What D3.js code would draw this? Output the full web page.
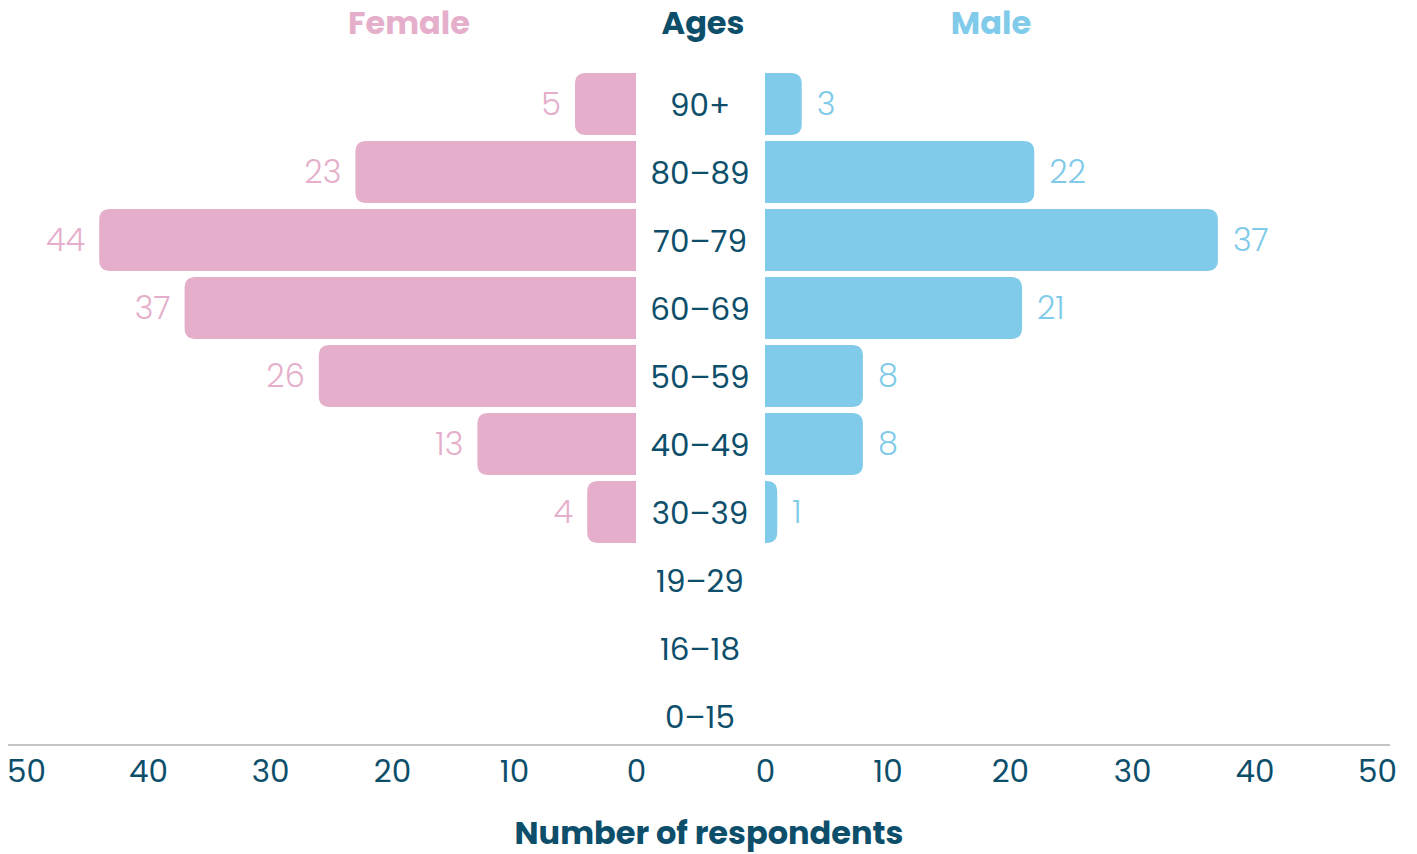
<!DOCTYPE html>
<html>
<head>
<meta charset="utf-8">
<script src="https://cdn.jsdelivr.net/npm/d3@7"></script>
<style>
  html, body { margin: 0; padding: 0; background: #ffffff; }
  svg { display: block; font-family: "Poppins", "Open Sans", sans-serif; }
</style>
</head>
<body>
<svg id="chart" width="1417" height="854"></svg>
<script>
// Age groups, top to bottom
const ages = ["90+", "80-89", "70-79", "60-69", "50-59", "40-49", "30-39", "19-29", "16-18", "0-15"];
// Respondents per age group
const female = [5, 23, 44, 37, 26, 13, 4, null, null, null];
const male   = [3, 22, 37, 21, 8, 8, 1, null, null, null];
const ticks = [0, 10, 20, 30, 40, 50];

const pink = "#e5afcb";
const blue = "#80cbea";
const navy = "#0d4f6b";

const svg = d3.select("#chart");

const xF = d3.scaleLinear().domain([0, 50]).range([636, 26]);
const xM = d3.scaleLinear().domain([0, 50]).range([765, 1377]);
const y = d3.scaleBand().domain(ages).range([70, 750]).paddingInner(0.09).paddingOuter(0.045);

// bar with the outer end rounded
function barPath(x0, x1, top, h, r) {
  const w = Math.abs(x1 - x0);
  r = Math.min(r, w, h / 2);
  const dir = x1 > x0 ? 1 : -1;
  const p = d3.path();
  p.moveTo(x0, top);
  p.lineTo(x1 - dir * r, top);
  p.quadraticCurveTo(x1, top, x1, top + r);
  p.lineTo(x1, top + h - r);
  p.quadraticCurveTo(x1, top + h, x1 - dir * r, top + h);
  p.lineTo(x0, top + h);
  p.closePath();
  return p.toString();
}

const rowsF = ages.map((a, i) => ({ age: a, v: female[i] })).filter(d => d.v != null);
const rowsM = ages.map((a, i) => ({ age: a, v: male[i] })).filter(d => d.v != null);

svg.append("g").selectAll("path").data(rowsF).join("path")
  .attr("d", d => barPath(xF(0), xF(d.v), y(d.age), y.bandwidth(), 11))
  .attr("fill", pink);

svg.append("g").selectAll("path").data(rowsM).join("path")
  .attr("d", d => barPath(xM(0), xM(d.v), y(d.age), y.bandwidth(), 11))
  .attr("fill", blue);

// value labels
svg.append("g").selectAll("text").data(rowsF).join("text")
  .attr("x", d => xF(d.v) - 14)
  .attr("y", d => y(d.age) + y.bandwidth() / 2)
  .attr("dy", "0.35em")
  .attr("text-anchor", "end")
  .attr("font-size", 32)
  .attr("font-weight", 300)
  .attr("fill", pink)
  .text(d => d.v);

svg.append("g").selectAll("text").data(rowsM).join("text")
  .attr("x", d => xM(d.v) + 15)
  .attr("y", d => y(d.age) + y.bandwidth() / 2)
  .attr("dy", "0.35em")
  .attr("text-anchor", "start")
  .attr("font-size", 32)
  .attr("font-weight", 300)
  .attr("fill", blue)
  .text(d => d.v);

// age labels in the middle column
svg.append("g").selectAll("text").data(ages).join("text")
  .attr("x", 700)
  .attr("y", d => y(d) + y.bandwidth() / 2 + 1)
  .attr("dy", "0.35em")
  .attr("text-anchor", "middle")
  .attr("font-size", 31)
  .attr("fill", navy)
  .text(d => d.replace("-", "\u2013"));

// column headers
const headers = [
  { t: "Female", x: 409, c: pink },
  { t: "Ages", x: 703, c: navy },
  { t: "Male", x: 991, c: blue }
];
svg.append("g").selectAll("text").data(headers).join("text")
  .attr("x", d => d.x)
  .attr("y", 23)
  .attr("dy", "0.35em")
  .attr("text-anchor", "middle")
  .attr("font-size", 32)
  .attr("font-weight", 700)
  .attr("fill", d => d.c)
  .text(d => d.t);

// baseline
svg.append("line")
  .attr("x1", 8).attr("x2", 1390)
  .attr("y1", 745).attr("y2", 745)
  .attr("stroke", "#c4c4c4")
  .attr("stroke-width", 2);

// axes
function styleAxis(g) {
  g.select(".domain").remove();
  g.selectAll(".tick line").remove();
  g.selectAll(".tick text")
    .attr("font-family", "Poppins, 'Open Sans', sans-serif")
    .attr("font-size", 31)
    .attr("fill", navy);
}
svg.append("g").attr("transform", "translate(0,752)")
  .call(d3.axisBottom(xF).tickValues(ticks).tickSize(0).tickPadding(8))
  .call(styleAxis);
svg.append("g").attr("transform", "translate(0,752)")
  .call(d3.axisBottom(xM).tickValues(ticks).tickSize(0).tickPadding(8))
  .call(styleAxis);

// axis title
svg.append("text")
  .attr("x", 709)
  .attr("y", 833)
  .attr("dy", "0.35em")
  .attr("text-anchor", "middle")
  .attr("font-size", 32)
  .attr("font-weight", 700)
  .attr("fill", navy)
  .text("Number of respondents");
</script>
</body>
</html>
